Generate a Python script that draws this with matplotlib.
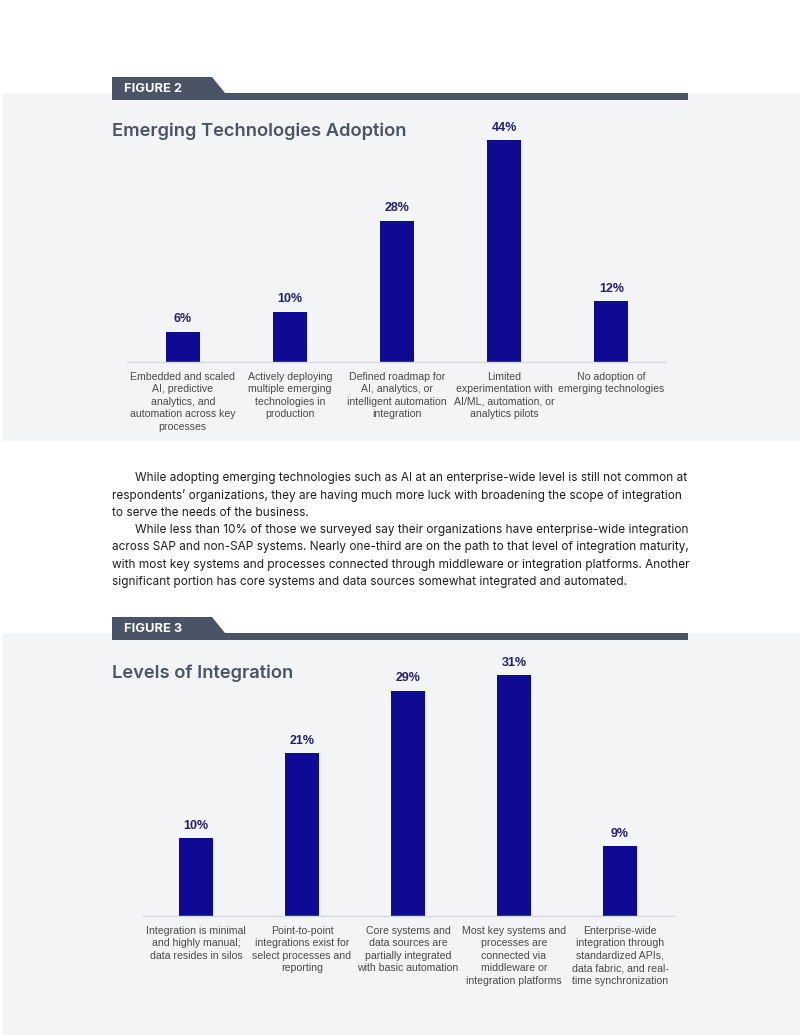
import matplotlib.pyplot as plt
from matplotlib.patches import Rectangle, Polygon

plt.rcParams['font.family'] = ['Liberation Sans', 'DejaVu Sans']

# Figure 2 data
adoption_labels = [
    'Embedded and scaled\nAI, predictive\nanalytics, and\nautomation across key\nprocesses',
    'Actively deploying\nmultiple emerging\ntechnologies in\nproduction',
    'Defined roadmap for\nAI, analytics, or\nintelligent automation\nintegration',
    'Limited\nexperimentation with\nAI/ML, automation, or\nanalytics pilots',
    'No adoption of\nemerging technologies',
]
adoption_values = [6, 10, 28, 44, 12]

# Figure 3 data
integration_labels = [
    'Integration is minimal\nand highly manual;\ndata resides in silos',
    'Point-to-point\nintegrations exist for\nselect processes and\nreporting',
    'Core systems and\ndata sources are\npartially integrated\nwith basic automation',
    'Most key systems and\nprocesses are\nconnected via\nmiddleware or\nintegration platforms',
    'Enterprise-wide\nintegration through\nstandardized APIs,\ndata fabric, and real-\ntime synchronization',
]
integration_values = [10, 21, 29, 31, 9]

body_lines = [
    'While adopting emerging technologies such as AI at an enterprise-wide level is still not common at',
    'respondents\u2019 organizations, they are having much more luck with broadening the scope of integration',
    'to serve the needs of the business.',
    'While less than 10% of those we surveyed say their organizations have enterprise-wide integration',
    'across SAP and non-SAP systems. Nearly one-third are on the path to that level of integration maturity,',
    'with most key systems and processes connected through middleware or integration platforms. Another',
    'significant portion has core systems and data sources somewhat integrated and automated.',
]

W, H = 800, 1035
BAR = '#0e0a94'
VAL = '#23206b'
SLATE = '#4a5466'
PANEL = '#f3f4f6'

fig = plt.figure(figsize=(W / 100, H / 100), dpi=100)
bg = fig.add_axes([0, 0, 1, 1])
bg.set_xlim(0, W)
bg.set_ylim(H, 0)
bg.axis('off')

def header(top, label, title, title_y, panel_bottom):
    bg.add_patch(Rectangle((3, top + 16), W - 3, panel_bottom - top - 16, color=PANEL, lw=0))
    bg.add_patch(Polygon([(112, top), (212, top), (225, top + 16), (688, top + 16),
                          (688, top + 23), (112, top + 23)], closed=True, color=SLATE, lw=0))
    bg.text(124, top + 12, label, color='white', fontsize=9.3, fontweight='bold',
            family=['Inter', 'DejaVu Sans'], va='center', ha='left')
    bg.text(112, title_y, title, color=SLATE, fontsize=13.2, fontweight='semibold',
            family=['Inter', 'DejaVu Sans'], va='center', ha='left')

def px_axes(left, right, base, top):
    return fig.add_axes([left / W, 1 - base / H, (right - left) / W, (base - top) / H])

def bars(ax, values, labels, xlo, xhi, ymax, width):
    x = range(len(values))
    ax.bar(x, values, width=width, color=BAR)
    for i, v in zip(x, values):
        ax.annotate(f'{v}%', (i, v), xytext=(0, 4.5), textcoords='offset points',
                    ha='center', va='bottom', fontsize=9, fontweight='bold', color=VAL)
    ax.set_xlim(xlo, xhi)
    ax.set_ylim(0, ymax)
    ax.set_xticks(list(x))
    ax.set_xticklabels(labels, fontsize=7.55, color='#4a4a4a', linespacing=1.32)
    ax.tick_params(axis='x', length=0, pad=7)
    ax.set_yticks([])
    for s in ['top', 'right', 'left']:
        ax.spines[s].set_visible(False)
    ax.spines['bottom'].set_color('#d6d9de')
    ax.spines['bottom'].set_linewidth(1)
    ax.patch.set_alpha(0)

header(77, 'FIGURE 2', 'Emerging Technologies Adoption', 131, 441)
ax1 = px_axes(127, 665, 362, 130)
bars(ax1, adoption_values, adoption_labels, -0.52, 4.5, 232 / 5.045, 0.317)

for i, line in enumerate(body_lines):
    indent = 135 if i in (0, 3) else 112
    bg.text(indent, 478 + i * 17.35, line, fontsize=8.5, color='#1e1e1e',
            family=['Inter', 'DejaVu Sans'], va='center', ha='left')

header(617, 'FIGURE 3', 'Levels of Integration', 673, H)
ax2 = px_axes(143, 675, 916, 666)
bars(ax2, integration_values, integration_labels, -0.5, 4.52, 250 / 7.77, 0.32)

fig.savefig('out.png', dpi=100, facecolor='white')
